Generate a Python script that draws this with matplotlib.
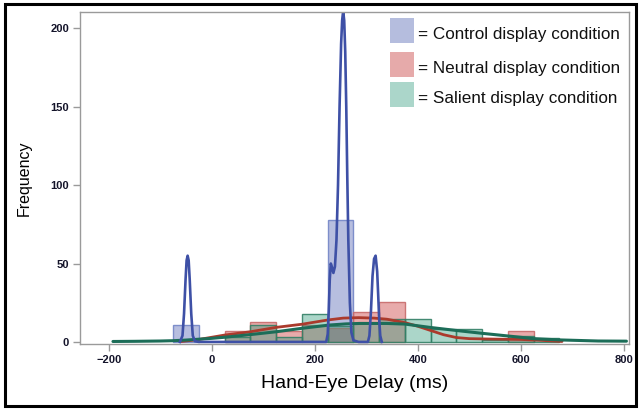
import matplotlib
matplotlib.use('Agg')
import matplotlib.pyplot as plt
from matplotlib.patches import Rectangle
import numpy as np

plt.rcParams['font.family'] = ['Liberation Sans', 'DejaVu Sans']

# Histogram bins (50 ms wide, labelled by centre) and counts per condition
bin_centers = [-50, 0, 50, 100, 150, 200, 250, 300, 350, 400, 450, 500, 550, 600, 650]
control_counts = [11, 0, 0, 0, 0, 0, 78, 0, 0, 0, 0, 0, 0, 0, 0]
neutral_counts = [0, 0, 7, 13, 7, 11, 9, 19, 25.5, 0, 0, 0, 0, 7, 0]
salient_counts = [0, 0, 3, 11, 3, 18, 10, 12, 14.5, 14.5, 8.5, 8.5, 1, 4, 2.5]
BIN_WIDTH = 50

# Density overlays (ms, frequency)
control_curve_x = [-62, -57, -54, -51, -49, -47, -45, -43, -40, -37, -33, -25, 222, 225, 227,
                   229, 231, 233, 236, 239, 242, 245, 248, 251, 253, 255, 257, 259, 261, 263,
                   265, 268, 271, 275, 285, 303, 306, 309, 312, 315, 318, 321, 323, 325, 327, 330]
control_curve_y = [0, 4, 18, 40, 52, 55, 52, 40, 18, 4, 0.5, 0, 0, 5, 20,
                   40, 50, 48, 44, 48, 65, 100, 150, 190, 205, 211, 205, 185, 150, 105,
                   65, 25, 6, 1, 0, 0, 4, 20, 42, 53, 55, 45, 30, 14, 4, 0]
neutral_curve_x = [-60, -30, 0, 25, 75, 125, 175, 225, 255, 285, 315, 340, 375, 400, 425,
                   450, 475, 500, 550, 600, 640, 680]
neutral_curve_y = [0.3, 1.3, 3, 4.4, 6.5, 9.3, 11.3, 14, 15.2, 15.5, 15.2, 14.5, 12.3, 10, 7.3,
                   4.6, 2.8, 2.1, 1.8, 1.6, 1.0, 0.3]
salient_curve_x = [-192, -150, -100, -75, -50, 0, 25, 75, 125, 175, 229, 260, 287, 340, 375,
                   423, 475, 525, 575, 625, 675, 750, 805]
salient_curve_y = [0.3, 0.4, 0.6, 0.8, 1.2, 2.3, 3, 4.7, 6.5, 8.7, 10.8, 11.5, 11.8, 11.8, 11.4,
                   9.3, 7.3, 5.5, 3.8, 2.1, 1.3, 0.6, 0.5]

labels = ['= Control display condition', '= Neutral display condition',
          '= Salient display condition']

W, H = 639, 409
fig = plt.figure(figsize=(W / 100, H / 100), dpi=100)


def px(x, y):
    """pixel position (from top-left) -> figure fraction"""
    return x / W, 1 - y / H


ax_l, ax_t = px(80, 12)
ax_r, ax_b = px(629, 344.3)
ax = fig.add_axes([ax_l, ax_b, ax_r - ax_l, ax_t - ax_b])

bar_fill = [(0.33, 0.40, 0.70, 0.42), (0.80, 0.27, 0.27, 0.45), (0.18, 0.60, 0.48, 0.40)]
bar_edge = [(0.45, 0.52, 0.78, 0.9), (0.78, 0.42, 0.42, 0.9), (0.20, 0.50, 0.40, 0.9)]
line_col = ['#3e50a6', '#ab3a2c', '#1c6d58']
fill_solid = ['#b5bdde', '#e6aaaa', '#abd6ca']

for counts, fc, ec in zip([control_counts, neutral_counts, salient_counts], bar_fill, bar_edge):
    x = np.array(bin_centers, dtype=float)
    h = np.array(counts, dtype=float)
    keep = h > 0
    ax.bar(x[keep], h[keep], width=BIN_WIDTH, color=fc, edgecolor=ec, linewidth=1.0)

ax.plot(neutral_curve_x, neutral_curve_y, color=line_col[1], lw=2.0, solid_capstyle='round')
ax.plot(salient_curve_x, salient_curve_y, color=line_col[2], lw=2.2, solid_capstyle='round')
ax.plot(control_curve_x, control_curve_y, color=line_col[0], lw=1.9, solid_joinstyle='round')

ax.set_xlim(-256, 810)
ax.set_ylim(-1.5, 210.4)
ax.set_xticks([-200, 0, 200, 400, 600, 800])
ax.set_yticks([0, 50, 100, 150, 200])
for s in ax.spines.values():
    s.set_color('#9a9a9a')
    s.set_linewidth(1.0)
ax.tick_params(axis='both', direction='out', length=5, width=1, color='#9a9a9a',
               labelsize=8, labelcolor='#14142a', pad=3)
for t in ax.get_xticklabels() + ax.get_yticklabels():
    t.set_fontweight('semibold')

ax.set_xlabel('Hand-Eye Delay (ms)', fontsize=14, labelpad=7)
ax.set_ylabel('Frequency', fontsize=11.5, labelpad=13)

# legend: solid squares with text sitting low beside them
sq_tops = [18, 52, 82]
txt_mid = [35, 68, 98]
for top, mid, col, lab in zip(sq_tops, txt_mid, fill_solid, labels):
    x0, y0 = px(390, top + 25)
    w, _ = px(24, 0)
    hh = 25 / H
    fig.add_artist(Rectangle((x0, y0), w, hh, transform=fig.transFigure,
                             facecolor=col, edgecolor='none'))
    tx, ty = px(418, mid)
    fig.text(tx, ty, lab, fontsize=12.3, va='center', ha='left', color='#111111')

# outer black frame
fx0, fy0 = px(5, 406)
fx1, fy1 = px(636, 4)
fig.add_artist(Rectangle((fx0, fy0), fx1 - fx0, fy1 - fy0, transform=fig.transFigure,
                         facecolor='none', edgecolor='black', linewidth=2.2))

fig.savefig('out.png', dpi=100)
